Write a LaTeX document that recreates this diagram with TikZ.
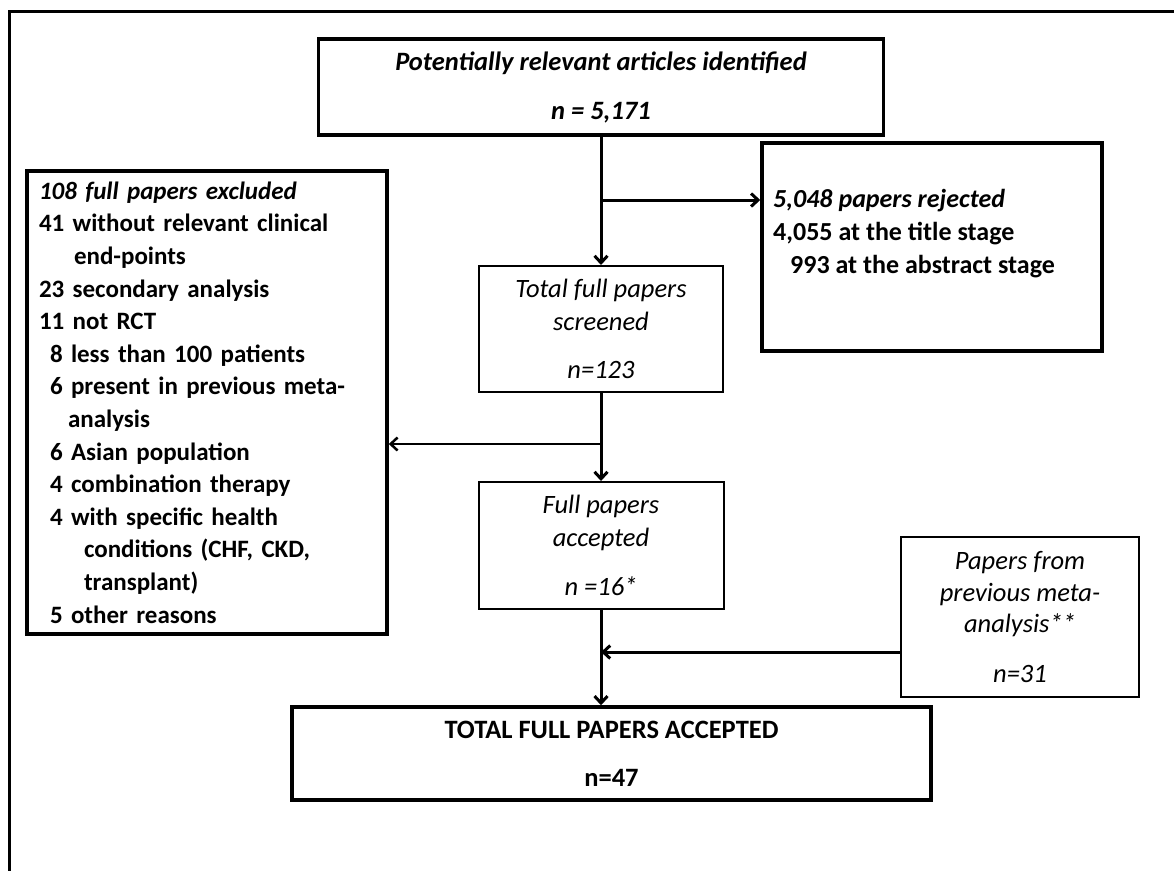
\documentclass[tikz,border=0pt]{standalone}
\usepackage{fontspec}
\setmainfont{Carlito}
\usetikzlibrary{arrows.meta}
\begin{document}
\begin{tikzpicture}[x=1pt,y=-1pt,
  thickbox/.style={draw,line width=3.5pt,inner sep=0pt,align=center},
  thinbox/.style={draw,line width=2pt,inner sep=0pt,align=center},
  conn/.style={line width=3pt,-{Straight Barb[length=7pt,width=13pt]}},
  txt/.style={font=\fontsize{26.5}{32.5}\selectfont}]
\useasboundingbox (0,0) rectangle (1174,871);
% frame (top and left edges only)
\draw[line width=3pt] (1174,11.5) -- (9,11.5) -- (9,871);

\node[thickbox,txt,minimum width=565pt,minimum height=96pt] (top) at (601,87)
  {\bfseries\itshape Potentially relevant articles identified\\[16.5pt]\bfseries\itshape n = 5,171};

\node[thickbox,minimum width=340pt,minimum height=208pt] (rej) at (932,247) {};
\node[anchor=north west,align=left,inner sep=0pt,font=\fontsize{26}{33}\selectfont\bfseries] (rejtext) at (773,189)
  {\itshape 5,048 papers rejected\\4,055 at the title stage\\\hspace*{17pt}993 at the abstract stage};

\node[thinbox,txt,minimum width=244pt,minimum height=126pt] (scr) at (601,329)
  {\itshape Total full papers\\\itshape screened\\[15.5pt]\itshape n=123};

\node[thickbox,align=left,inner xsep=12pt,inner ysep=0pt,text width=336pt,minimum height=463pt,
  font=\fontsize{25}{32.6}\selectfont\bfseries] (excl) at (207,402.5)
  {{\itshape 108 full papers excluded}\\
   41 without relevant clinical\\
   \hspace*{35pt}end-points\\
   23 secondary analysis\\
   11 not RCT\\
   \hspace*{11pt}8 less than 100 patients\\
   \hspace*{11pt}6 present in previous meta-\\
   \hspace*{29pt}analysis\\
   \hspace*{11pt}6 Asian population\\
   \hspace*{11pt}4 combination therapy\\
   \hspace*{11pt}4 with specific health\\
   \hspace*{45pt}conditions (CHF, CKD,\\
   \hspace*{45pt}transplant)\\
   \hspace*{11pt}5 other reasons};

\node[thinbox,txt,minimum width=245pt,minimum height=127pt] (acc) at (601,545.5)
  {\itshape Full papers\\\itshape accepted\\[16.5pt]\itshape n =16*};

\node[thinbox,font=\fontsize{26.5}{31.5}\selectfont,minimum width=238pt,minimum height=160pt] (pap) at (1020,617)
  {\itshape Papers from\\\itshape previous meta-\\\itshape analysis**\\[18.5pt]\itshape n=31};

\node[thickbox,txt,minimum width=639pt,minimum height=93pt] (fin) at (611.5,753.5)
  {\bfseries TOTAL FULL PAPERS ACCEPTED\\[15.5pt]\bfseries n=47};

\coordinate (j1) at (601,200);
\coordinate (j2) at (601,444);
\coordinate (j3) at (601,652);

\draw[conn] (top) -- (scr);
\draw[conn] (j1) -- (j1 -| rej.west);
\draw[conn] (scr) -- (acc);
\draw[conn,line width=2.5pt] (j2) -- (j2 -| excl.east);
\draw[conn] (acc.south) -- (acc.south |- fin.north);
\draw[conn] (pap.west |- j3) -- (j3);
\end{tikzpicture}
\end{document}
